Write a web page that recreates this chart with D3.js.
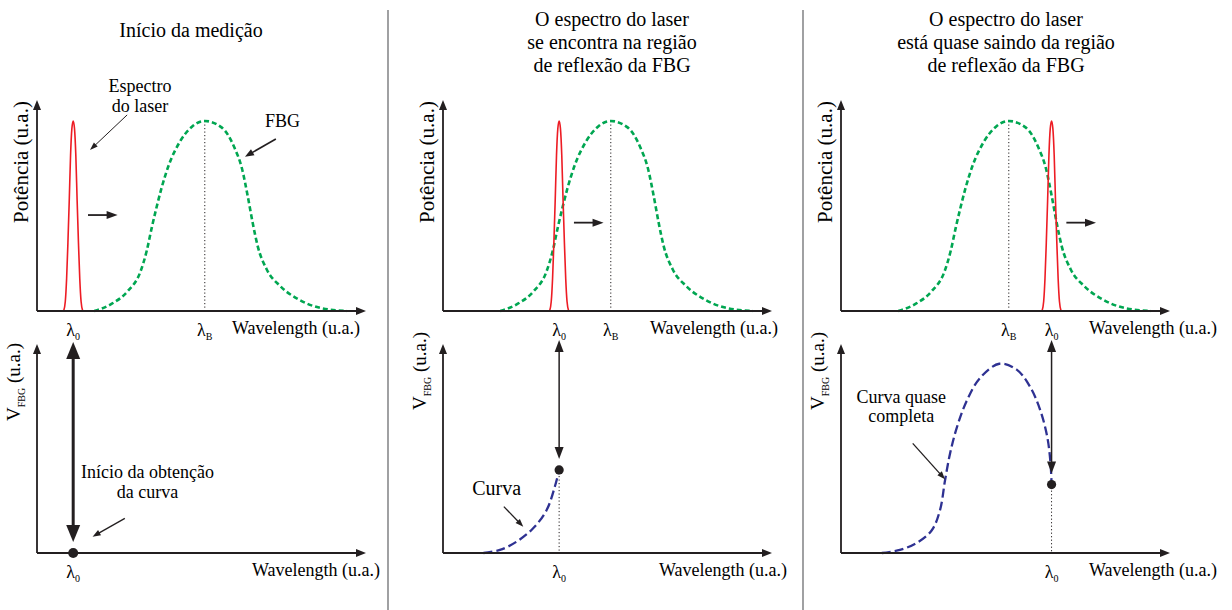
<!DOCTYPE html>
<html>
<head>
<meta charset="utf-8">
<script src="https://cdn.jsdelivr.net/npm/d3@7"></script>
<style>
body { margin: 0; background: #fff; }
svg { display: block; }
</style>
</head>
<body>
<svg id="fig" width="1232" height="610"></svg>
<script>
// ---- data (wavelength in u.a. 0..100, power / V normalised 0..1) ----
var titles = [
    ["Início da medição"],
    ["O espectro do laser", "se encontra na região", "de reflexão da FBG"],
    ["O espectro do laser", "está quase saindo da região", "de reflexão da FBG"]
];
var lambda0 = [11, 35.3, 64];
var lambdaB = 51;

// FBG reflection spectrum
var fbgX = [17.4, 22.4, 27.6, 31.4, 33.4, 34.9, 36.4, 37.9, 40.1, 43.4, 47.1, 51,
            56.2, 60.0, 62.3, 64.1, 65.6, 67.1, 69.8, 74.0, 79.6, 85.7, 94.2];
var fbgP = [0, 0.035, 0.105, 0.205, 0.32, 0.44, 0.55, 0.65, 0.77, 0.89, 0.97, 1,
            0.965, 0.86, 0.75, 0.6, 0.46, 0.34, 0.22, 0.13, 0.06, 0.018, 0];

// laser line, offsets from lambda0
var laserDx = [-2.9, -2.4, -2.0, -1.6, -1.2, -0.8, -0.4, 0, 0.4, 0.8, 1.2, 1.6, 2.0, 2.4, 2.9];
var laserP  = [0, 0.05, 0.17, 0.36, 0.58, 0.82, 0.96, 1, 0.96, 0.82, 0.58, 0.36, 0.17, 0.05, 0];

// V_FBG curve acquired so far in each stage
var sweepX = [
    [11],
    [12.3, 17.3, 22.4, 27.4, 31.5, 34.0, 35.3],
    [12.4, 17.9, 23.0, 27.6, 30.1, 31.6, 33.1, 35.2, 38.2, 42.2, 48.1, 53.4, 57.4, 60.5, 62.7, 63.7, 64.0]
];
var sweepP = [
    [0],
    [0, 0.016, 0.06, 0.13, 0.226, 0.35, 0.437],
    [0, 0.016, 0.053, 0.12, 0.226, 0.38, 0.52, 0.66, 0.8, 0.92, 0.996, 0.965, 0.877, 0.755, 0.61, 0.47, 0.36]
];

var xLabel = "Wavelength (u.a.)";
var yLabelTop = "Potência (u.a.)";

// ---- layout ----
var ink = "#231f20", red = "#ed1c24", green = "#00a651", blue = "#2e3192";
var svg = d3.select("#fig");

var panelX = [37, 443, 841], plotW = 329;
var titleX = [191, 612, 1006];
var moveY = [0.505, 0.465, 0.465];
var wlEndTop = [360, 778, 1217], wlEndBot = [380, 787, 1217];
var vLabelY = [421, 410, 410];

var yTop = d3.scaleLinear().domain([0, 1]).range([311, 121]);
var yBot = d3.scaleLinear().domain([0, 1]).range([553, 363]);
var topAxisEnd = 100, botAxisEnd = 344;

function head(g, x, y, ang, len, wid) {
    var c = Math.cos(ang), s = Math.sin(ang);
    var bx = x - c * len, by = y - s * len;
    g.append("path")
        .attr("d", "M" + x + "," + y +
            "L" + (bx - s * wid / 2) + "," + (by + c * wid / 2) +
            "L" + (bx + s * wid / 2) + "," + (by - c * wid / 2) + "Z")
        .attr("fill", ink);
}

function arrow(g, x1, y1, x2, y2, o) {
    o = Object.assign({w: 1.5, len: 9, wid: 7, both: false}, o || {});
    var a = Math.atan2(y2 - y1, x2 - x1), c = Math.cos(a), s = Math.sin(a);
    var k = o.len * 0.7;
    g.append("line")
        .attr("x1", o.both ? x1 + c * k : x1).attr("y1", o.both ? y1 + s * k : y1)
        .attr("x2", x2 - c * k).attr("y2", y2 - s * k)
        .attr("stroke", ink).attr("stroke-width", o.w);
    head(g, x2, y2, a, o.len, o.wid);
    if (o.both) head(g, x1, y1, a + Math.PI, o.len, o.wid);
}

function newText(g, x, y, size, anchor) {
    return g.append("text").attr("x", x).attr("y", y)
        .attr("text-anchor", anchor || "middle")
        .style("font-family", "'Liberation Serif'")
        .style("font-size", (size || 18) + "px");
}

function lam(g, x, y, sub) {
    var t = newText(g, x, y, 18);
    t.append("tspan").text("λ");
    t.append("tspan").style("font-size", "10px").attr("dy", 4).text(sub);
}

function txt(g, x, y, s, size, anchor) {
    return newText(g, x, y, size, anchor).text(s);
}

// separators
[388, 803].forEach(function(x) {
    svg.append("line").attr("x1", x).attr("x2", x).attr("y1", 10).attr("y2", 610)
        .attr("stroke", "#6d6e71").attr("stroke-width", 1.3);
});

var fbgLine = d3.line().curve(d3.curveMonotoneX);
var sweepLine = d3.line().curve(d3.curveCatmullRom.alpha(0.5));

titles.forEach(function(lines, i) {
    var g = svg.append("g");
    var x = d3.scaleLinear().domain([0, 100]).range([panelX[i], panelX[i] + plotW]);

    // title
    var ty = lines.length == 1 ? [37] : [26, 49, 72];
    lines.forEach(function(s, j) { txt(g, titleX[i], ty[j], s, 20); });

    // ---------- top: spectra ----------
    g.append("line")
        .attr("x1", x(lambdaB)).attr("x2", x(lambdaB))
        .attr("y1", yTop(1)).attr("y2", yTop(0))
        .attr("stroke", ink).attr("stroke-width", 1).attr("stroke-dasharray", "1.2,2.3");

    g.append("path")
        .attr("d", fbgLine(fbgX.map(function(v, k) { return [x(v), yTop(fbgP[k])]; })))
        .attr("fill", "none").attr("stroke", green)
        .attr("stroke-width", 2.6).attr("stroke-dasharray", "5,3");

    g.append("path")
        .attr("d", fbgLine(laserDx.map(function(d, k) { return [x(lambda0[i] + d), yTop(laserP[k])]; })))
        .attr("fill", "none").attr("stroke", red).attr("stroke-width", 1.6);

    arrow(g, x(0), yTop(0), x(100), yTop(0), {w: 1.8, len: 10, wid: 8});
    arrow(g, x(0), yTop(0), x(0), topAxisEnd, {w: 1.8, len: 10, wid: 8});

    // laser moving to the right
    arrow(g, x(lambda0[i] + 4.5), yTop(moveY[i]), x(lambda0[i] + 13.5), yTop(moveY[i]),
        {w: 1.8, len: 11, wid: 8});

    lam(g, x(lambda0[i]), 336, "0");
    lam(g, x(lambdaB), 336, "B");
    txt(g, wlEndTop[i], 334, xLabel, 18, "end");

    newText(g, 0, 0, 21)
        .attr("transform", "translate(" + (panelX[i] - 9) + ",162) rotate(-90)")
        .text(yLabelTop);

    // ---------- bottom: V_FBG ----------
    var dotY = yBot(sweepP[i][sweepP[i].length - 1]);

    if (sweepX[i].length > 1) {
        g.append("line")
            .attr("x1", x(lambda0[i])).attr("x2", x(lambda0[i]))
            .attr("y1", dotY + 6).attr("y2", yBot(0))
            .attr("stroke", ink).attr("stroke-width", 1).attr("stroke-dasharray", "1.2,2.3");
        g.append("path")
            .attr("d", sweepLine(sweepX[i].map(function(v, k) { return [x(v), yBot(sweepP[i][k])]; })))
            .attr("fill", "none").attr("stroke", blue)
            .attr("stroke-width", 2.3).attr("stroke-dasharray", "9,4");
    }

    arrow(g, x(0), yBot(0), x(100), yBot(0), {w: 1.8, len: 10, wid: 8});
    arrow(g, x(0), yBot(0), x(0), botAxisEnd, {w: 1.8, len: 10, wid: 8});

    if (i == 0) {
        arrow(g, x(lambda0[i]), botAxisEnd - 2, x(lambda0[i]), dotY - 11,
            {w: 3, len: 17, wid: 14, both: true});
    } else {
        arrow(g, x(lambda0[i]), botAxisEnd - 4, x(lambda0[i]), dotY - 11,
            {w: 1.5, len: 12, wid: 9, both: true});
    }

    g.append("circle").attr("cx", x(lambda0[i])).attr("cy", dotY)
        .attr("r", i == 0 ? 5 : 4.6).attr("fill", ink);

    lam(g, x(lambda0[i]), 578, "0");
    txt(g, wlEndBot[i], 576, xLabel, 18, "end");

    var vl = newText(g, 0, 0, 19, "start")
        .attr("transform", "translate(" + (panelX[i] - 17.5) + "," + vLabelY[i] + ") rotate(-90)");
    vl.append("tspan").text("V");
    vl.append("tspan").style("font-size", "10px").attr("dy", 5).text("FBG");
    vl.append("tspan").attr("dy", -5).text(" (u.a.)");

    // ---------- notes ----------
    if (i == 0) {
        txt(g, x(31.3), yTop(1.153), "Espectro");
        txt(g, x(31.3), yTop(1.047), "do laser");
        arrow(g, x(27.4), yTop(1.032), x(16.1), yTop(0.847), {w: 1, len: 8, wid: 5.5});
        txt(g, x(74.6), yTop(0.968), "FBG");
        arrow(g, x(72.6), yTop(0.905), x(63.2), yTop(0.812), {w: 1.6, len: 9, wid: 7});

        txt(g, x(33.6), yBot(0.395), "Início da obtenção");
        txt(g, x(33.6), yBot(0.29), "da curva");
        arrow(g, x(26.7), yBot(0.182), x(16.9), yBot(0.086), {w: 1.3, len: 8, wid: 6});
    } else if (i == 1) {
        txt(g, x(16.3), yBot(0.305), "Curva", 20);
        arrow(g, x(18.5), yBot(0.244), x(24.4), yBot(0.138), {w: 1.3, len: 8, wid: 6});
    } else {
        txt(g, x(18.3), yBot(0.79), "Curva quase");
        txt(g, x(18.3), yBot(0.69), "completa");
        arrow(g, x(21.8), yBot(0.577), x(31.6), yBot(0.388), {w: 1.3, len: 8, wid: 6});
    }
});
</script>
</body>
</html>
